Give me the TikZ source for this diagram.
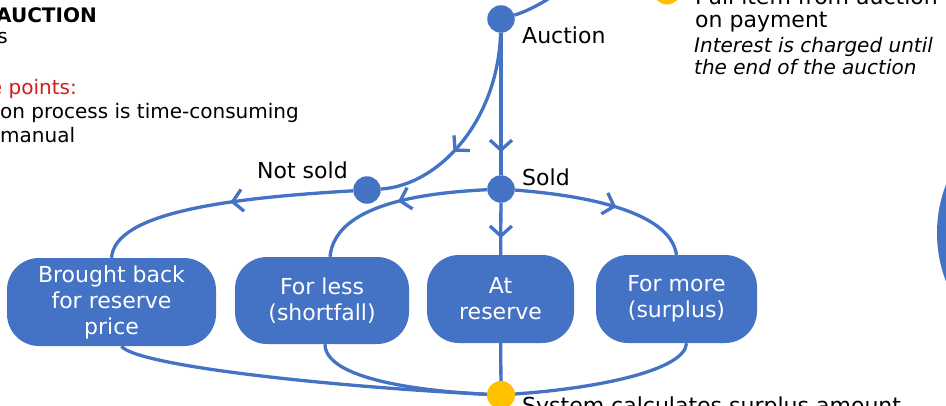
\documentclass[tikz,border=0pt]{standalone}
\usepackage{fontspec}
\setmainfont{DejaVu Sans}
\usetikzlibrary{arrows.meta,decorations.markings}

\definecolor{flowblue}{HTML}{4472C4}
\definecolor{flowgold}{HTML}{FFC000}
\definecolor{painred}{HTML}{D01C1C}

\tikzset{
  dot/.style={circle, fill=flowblue, minimum size=27.5pt, inner sep=0pt},
  golddot/.style={circle, fill=flowgold, minimum size=28pt, inner sep=0pt},
  stepbox/.style={rectangle, rounded corners=32pt, fill=flowblue, text=white,
    align=center, inner sep=0pt, font=\fontsize{22}{26}\selectfont},
  lbl/.style={font=\fontsize{22}{26}\selectfont, inner sep=0pt, text=black},
  note/.style={font=\fontsize{20}{24}\selectfont, inner sep=0pt, text=black},
  flow/.style={draw, color=flowblue, line width=3.3pt},
  midarrow/.style={postaction={decorate, decoration={markings,
    mark=at position #1 with {\arrow{Straight Barb[length=10pt,width=22pt]}}}}},
}

\begin{document}
\begin{tikzpicture}[x=1pt, y=-1pt]
\useasboundingbox (0,0) rectangle (946,405);
\clip (0,0) rectangle (946,405);

% heading and pain points on the left
\node[note, font=\fontsize{20}{24}\selectfont\bfseries, anchor=base east] (title) at (97,22) {AUCTION};
\node[note, anchor=base east] (sub) at (8,43) {s};
\node[note, text=painred, anchor=base east] (pain) at (77,94) {e points:};
\node[note, anchor=base east] (pain1) at (299,118) {on process is time-consuming};
\node[note, anchor=base west] (pain2) at (0,142) {manual};

% decision dots
\node[dot] (auc) at (501,19) {};
\node[dot] (sold) at (501,189) {};
\node[dot] (notsold) at (367,190) {};
\node[golddot] (pull) at (667,-9.5) {};
\node[golddot] (calc) at (501,395) {};

% large circle at the right edge
\fill[flowblue] (1072,233) circle (135);

% labels beside the dots
\node[lbl, anchor=base west] (auclbl) at (522,43) {Auction};
\node[lbl, anchor=base west] (soldlbl) at (522,185) {Sold};
\node[lbl, anchor=base west] (notsoldlbl) at (257,178) {Not sold};
\node[lbl, anchor=base west] (calclbl) at (522,413) {System calculates surplus amount};
\node[lbl, anchor=base west] (pulllbl) at (695,4.5) {Pull item from auction};
\node[lbl, anchor=base west] (paylbl) at (695,27) {on payment};
\node[note, font=\fontsize{20}{24}\selectfont\itshape, anchor=base west] (int1) at (694,52) {Interest is charged until};
\node[note, font=\fontsize{20}{24}\selectfont\itshape, anchor=base west] (int2) at (694,74) {the end of the auction};

% outcome boxes
\node[stepbox, minimum width=209pt, minimum height=88pt] (brought) at (111.5,302) {Brought back\\for reserve\\price};
\node[stepbox, minimum width=174pt, minimum height=87pt] (less) at (322,300.5) {For less\\(shortfall)};
\node[stepbox, minimum width=147pt, minimum height=88pt] (atres) at (500.5,299) {At\\reserve};
\node[stepbox, minimum width=161pt, minimum height=88pt] (more) at (676.5,299) {For more\\(surplus)};

% connectors
\coordinate (topin) at (562,-10);
\draw[flow] (auc) .. controls (525,12) and (540,5) .. (topin);
\draw[flow, midarrow=0.84] (auc) -- (sold);
\draw[flow, midarrow=0.61] (auc) .. controls (498,120) and (440,185) .. (notsold);
\draw[flow, midarrow=0.47] (notsold) .. controls (230,198) and (115,212) .. (brought.north);
\draw[flow, midarrow=0.49] (sold) .. controls (420,193) and (335,205) .. ([xshift=8pt]less.north);
\draw[flow, midarrow=0.68] (sold) -- (atres);
\draw[flow, midarrow=0.56] (sold) .. controls (580,195) and (670,210) .. (more.north);

\draw[flow] ([xshift=10pt]brought.south) .. controls (135,365) and (320,386) .. (calc);
\draw[flow] ([xshift=3pt]less.south) .. controls (325,375) and (400,390) .. (calc);
\draw[flow] (atres) -- (calc);
\draw[flow] ([xshift=10pt]more.south) .. controls (685,370) and (600,388) .. (calc);
\end{tikzpicture}
\end{document}
